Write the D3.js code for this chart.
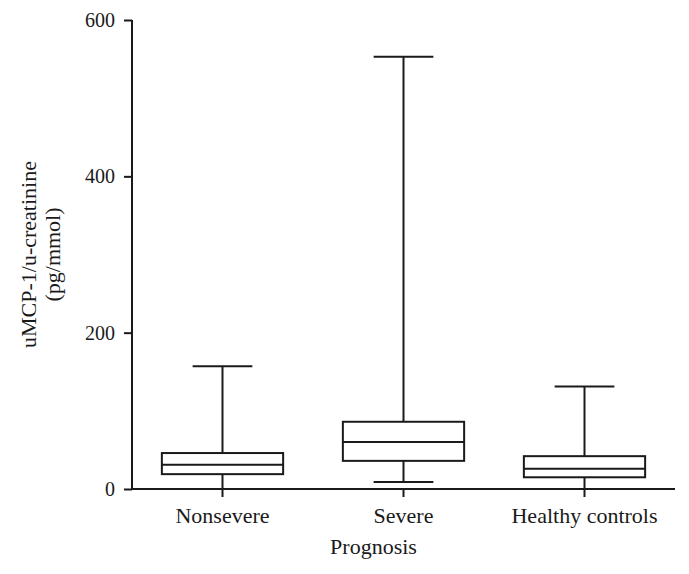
<!DOCTYPE html>
<html>
<head>
<meta charset="utf-8">
<script src="https://cdn.jsdelivr.net/npm/d3@7"></script>
<style>
  body { margin: 0; background: #fff; }
  svg text { font-family: "Liberation Serif", "DejaVu Serif", serif; fill: #1a1a1a; }
</style>
</head>
<body>
<svg id="chart" width="689" height="574"></svg>
<script>
const categories = ["Nonsevere", "Severe", "Healthy controls"];
const minValues    = [0, 9, 0];
const q1Values     = [19, 36, 15];
const medianValues = [31, 60, 26];
const q3Values     = [46, 86, 42];
const maxValues    = [157, 553, 131];
const yTicks = [0, 200, 400, 600];
const yTitleLines = ["uMCP-1/u-creatinine", "(pg/mmol)"];
const xTitle = "Prognosis";

const svg = d3.select("#chart");
const mLeft = 132, mRight = 675, mTop = 20, mBottom = 489;
const ink = "#1a1a1a";

const x = d3.scaleBand().domain(categories).range([mLeft, mRight]).padding(0);
const y = d3.scaleLinear().domain([0, 600]).range([mBottom, mTop]);

const data = categories.map((c, i) => ({
  cat: c, min: minValues[i], q1: q1Values[i], med: medianValues[i], q3: q3Values[i], max: maxValues[i]
}));

const boxW = x.bandwidth() * 0.67;
const capW = x.bandwidth() * 0.33;

const g = svg.append("g");
data.forEach(d => {
  const cx = x(d.cat) + x.bandwidth() / 2;
  const gg = g.append("g").attr("stroke", ink).attr("stroke-width", 2).attr("fill", "none");
  gg.append("line").attr("x1", cx).attr("x2", cx).attr("y1", y(d.max)).attr("y2", y(d.q3));
  gg.append("line").attr("x1", cx).attr("x2", cx).attr("y1", y(d.q1)).attr("y2", y(d.min));
  gg.append("line").attr("x1", cx - capW/2).attr("x2", cx + capW/2).attr("y1", y(d.max)).attr("y2", y(d.max));
  gg.append("line").attr("x1", cx - capW/2).attr("x2", cx + capW/2).attr("y1", y(d.min)).attr("y2", y(d.min));
  gg.append("rect").attr("x", cx - boxW/2).attr("width", boxW)
    .attr("y", y(d.q3)).attr("height", y(d.q1) - y(d.q3)).attr("fill", "#fff");
  gg.append("line").attr("x1", cx - boxW/2).attr("x2", cx + boxW/2).attr("y1", y(d.med)).attr("y2", y(d.med));
});

// Y axis
const yAxis = svg.append("g").attr("transform", `translate(${mLeft},0)`)
  .call(d3.axisLeft(y).tickValues(yTicks).tickSize(8).tickPadding(9));
yAxis.select(".domain").attr("d", `M0,${mTop}V${mBottom}`).attr("stroke", ink).attr("stroke-width", 2);
yAxis.selectAll(".tick line").attr("stroke", ink).attr("stroke-width", 2);
yAxis.selectAll(".tick text").attr("font-size", 20).attr("font-family", "Liberation Serif").attr("fill", ink);

// X axis
const xAxis = svg.append("g").attr("transform", `translate(0,${mBottom})`)
  .call(d3.axisBottom(x).tickSize(8).tickPadding(10));
xAxis.select(".domain").attr("d", `M${mLeft},0H${mRight}`).attr("stroke", ink).attr("stroke-width", 2);
xAxis.selectAll(".tick line").attr("stroke", ink).attr("stroke-width", 2);
xAxis.selectAll(".tick text").attr("font-size", 22).attr("font-family", "Liberation Serif").attr("fill", ink);

// Titles
svg.append("text").attr("x", (mLeft + mRight) / 2 - 30).attr("y", 554)
  .attr("text-anchor", "middle").attr("font-size", 22).text(xTitle);

const yt = svg.append("text").attr("transform", `translate(0,${(mTop + mBottom) / 2}) rotate(-90)`)
  .attr("text-anchor", "middle").attr("font-size", 22);
yt.append("tspan").attr("x", 0).attr("y", 36).text(yTitleLines[0]);
yt.append("tspan").attr("x", 0).attr("y", 60).text(yTitleLines[1]);
</script>
</body>
</html>
